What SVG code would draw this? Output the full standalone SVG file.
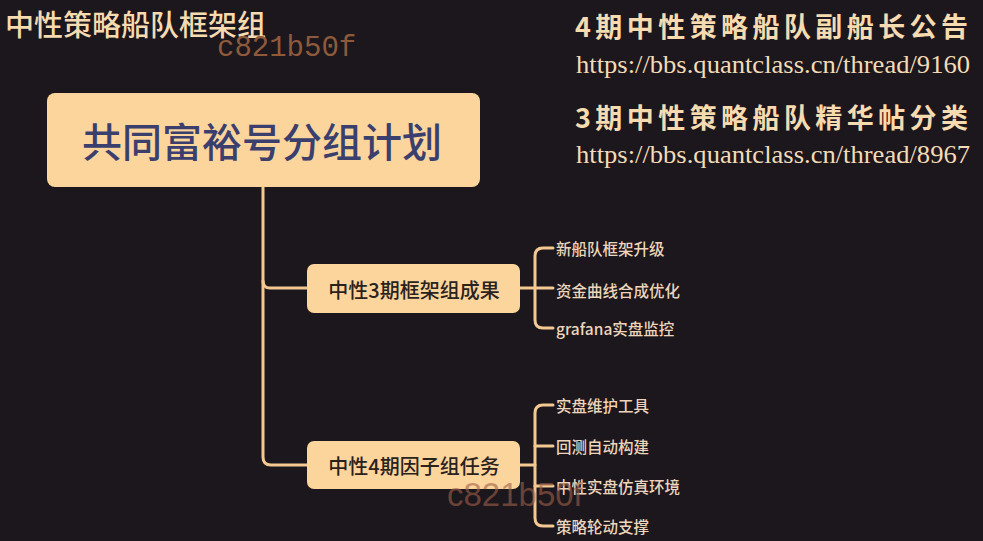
<svg xmlns="http://www.w3.org/2000/svg" width="983" height="541" viewBox="0 0 983 541">
<style>
.cjk{font-family:"Noto Sans CJK SC","Noto Sans",sans-serif}
.head{fill:#f6dbb0}
.node{fill:#fcd59c}
.ntxt{fill:#2a221c;font-size:20px;font-weight:500}
.leaf{fill:#ecd5bb;font-size:15.5px;font-weight:500}
.url{font-family:"Liberation Serif",serif;font-size:26px;fill:#f3dbb8}
.conn{fill:none;stroke:#f3c991;stroke-width:3;stroke-linecap:round}
</style>
<rect width="983" height="541" fill="#1b171c"/>
<text class="cjk head" x="5" y="22.5" dominant-baseline="central" font-size="29" font-weight="500">中性策略船队框架组</text>
<text x="217" y="56" font-family="Liberation Mono, monospace" font-size="29" fill="#8e5a3c">c821b50f</text>
<text class="cjk head" x="575" y="25" dominant-baseline="central" font-size="27" font-weight="bold" textLength="393" lengthAdjust="spacing">4期中性策略船队副船长公告</text>
<text class="url" x="576" y="73" textLength="394" lengthAdjust="spacingAndGlyphs">https://bbs.quantclass.cn/thread/9160</text>
<text class="cjk head" x="575" y="116.5" dominant-baseline="central" font-size="27" font-weight="bold" textLength="393" lengthAdjust="spacing">3期中性策略船队精华帖分类</text>
<text class="url" x="576" y="163" textLength="394" lengthAdjust="spacingAndGlyphs">https://bbs.quantclass.cn/thread/8967</text>
<g id="connectors">
<path class="conn" d="M263,187 V457 Q263,465 271,465 H307"/>
<path class="conn" d="M263,281 Q263,288 270,288 H307"/>
<path class="conn" d="M520,288 H553"/>
<path class="conn" d="M553,248 H543 Q535,248 535,256 V320 Q535,328 543,328 H553"/>
<path class="conn" d="M520,465 H535"/>
<path class="conn" d="M553,405 H543 Q535,405 535,413 V518 Q535,526 543,526 H553"/>
<path class="conn" d="M535,446 H553 M535,486 H553"/>
</g>
<g id="root">
<rect class="node" x="47" y="93" width="433" height="94" rx="8"/>
<text class="cjk" x="262" y="140" text-anchor="middle" dominant-baseline="central" font-size="40" font-weight="500" fill="#3b3f6e">共同富裕号分组计划</text>
</g>
<g id="n1">
<rect class="node" x="307" y="264" width="213" height="49" rx="7"/>
<text class="cjk ntxt" x="414" y="289" text-anchor="middle" dominant-baseline="central">中性3期框架组成果</text>
</g>
<g id="n2">
<rect class="node" x="307" y="441" width="213" height="48" rx="7"/>
<text class="cjk ntxt" x="414" y="465" text-anchor="middle" dominant-baseline="central">中性4期因子组任务</text>
</g>
<g id="l1"><text class="cjk leaf" x="556" y="248" dominant-baseline="central">新船队框架升级</text></g>
<g id="l2"><text class="cjk leaf" x="556" y="290" dominant-baseline="central">资金曲线合成优化</text></g>
<g id="l3"><text class="cjk leaf" x="556" y="328" dominant-baseline="central">grafana实盘监控</text></g>
<g id="l4"><text class="cjk leaf" x="556" y="405" dominant-baseline="central">实盘维护工具</text></g>
<g id="l5"><text class="cjk leaf" x="556" y="446" dominant-baseline="central">回测自动构建</text></g>
<g id="l6"><text class="cjk leaf" x="556" y="486" dominant-baseline="central">中性实盘仿真环境</text></g>
<g id="l7"><text class="cjk leaf" x="556" y="526" dominant-baseline="central">策略轮动支撑</text></g>
<text x="447" y="506" font-family="Liberation Sans, sans-serif" font-size="33" fill="#a0604a" opacity="0.6">c821b50f</text>
</svg>
